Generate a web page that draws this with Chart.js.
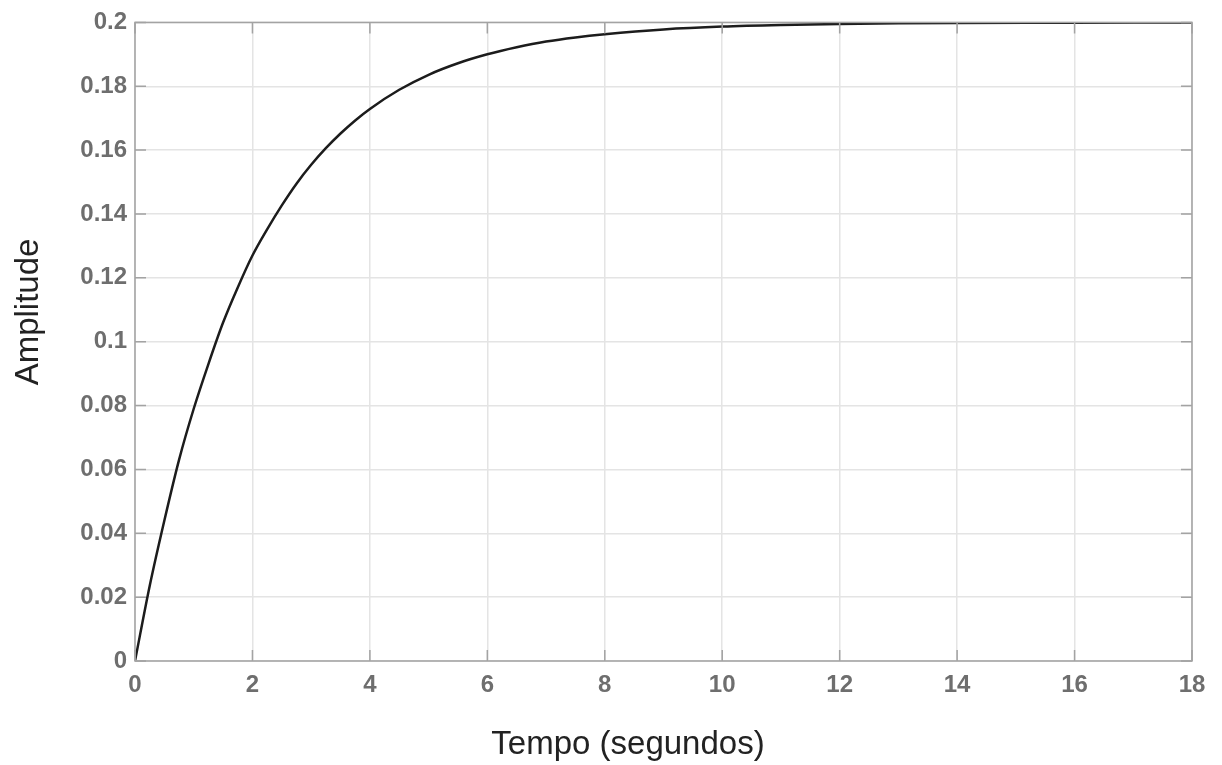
<!DOCTYPE html>
<html>
<head>
<meta charset="utf-8">
<script src="https://cdn.jsdelivr.net/npm/chart.js@4.4.0/dist/chart.umd.min.js"></script>
<style>
  html, body { margin: 0; padding: 0; background: #fff; }
  #wrap { width: 1222px; height: 765px; }
</style>
</head>
<body>
<div id="wrap"><canvas id="myChart" width="1222" height="765"></canvas></div>
<script>
// step response
const tempo = [0, 0.25, 0.5, 0.75, 1, 1.25, 1.5, 1.75, 2, 2.25, 2.5, 2.75, 3, 3.25, 3.5, 3.75, 4, 4.5, 5, 5.5, 6, 6.5, 7, 7.5, 8, 9, 10, 11, 12, 13, 14, 16, 18];
const amplitude = [0, 0.0235, 0.044, 0.063, 0.079, 0.093, 0.106, 0.117, 0.127, 0.1352, 0.1427, 0.1495, 0.1554, 0.1606, 0.1652, 0.1693, 0.1729, 0.1789, 0.1836, 0.1872, 0.190, 0.1922, 0.1940, 0.1953, 0.1963, 0.1978, 0.1987, 0.1992, 0.1995, 0.1997, 0.1998, 0.1999, 0.2];
const xTicks = ['0', '2', '4', '6', '8', '10', '12', '14', '16', '18'];
const yTicks = ['0', '0.02', '0.04', '0.06', '0.08', '0.1', '0.12', '0.14', '0.16', '0.18', '0.2'];
const xTitle = 'Tempo (segundos)';
const yTitle = 'Amplitude';

runChart();
function runChart(){
    const ctx = document.getElementById('myChart').getContext('2d');
    let points = [];
    for (let i = 0; i < tempo.length; i++) {
        points.push({x: tempo[i], y: amplitude[i]});
    }

    const titleFont = '33px "Liberation Sans", Arial, sans-serif';

    // box round the plot, short inward ticks (matlab style) and the two axis titles
    const boxTicks = {
        id: 'boxTicks',
        afterDatasetsDraw(chart) {
            const c = chart.ctx;
            const a = chart.chartArea;
            const xs = chart.scales.x;
            const ys = chart.scales.y;
            const len = 11;
            c.save();
            c.strokeStyle = '#a3a3a3';
            c.lineWidth = 1.5;
            c.strokeRect(a.left, a.top, a.right - a.left, a.bottom - a.top);
            c.beginPath();
            xs.ticks.forEach(t => {
                const px = xs.getPixelForValue(t.value);
                c.moveTo(px, a.bottom); c.lineTo(px, a.bottom - len);
                c.moveTo(px, a.top); c.lineTo(px, a.top + len);
            });
            ys.ticks.forEach(t => {
                const py = ys.getPixelForValue(t.value);
                c.moveTo(a.left, py); c.lineTo(a.left + len, py);
                c.moveTo(a.right, py); c.lineTo(a.right - len, py);
            });
            c.stroke();

            c.fillStyle = '#222';
            c.font = titleFont;
            c.textAlign = 'center';
            c.textBaseline = 'alphabetic';
            c.fillText(xTitle, 628, 754);
            c.translate(38, 312);
            c.rotate(-Math.PI / 2);
            c.fillText(yTitle, 0, 0);
            c.restore();
        }
    };

    const tickFont = {family: 'Liberation Sans, Arial, sans-serif', size: 24, weight: 'bold'};

    new Chart(ctx, {
        type: 'line',
        data: {
            datasets: [{
                label: 'Amplitude',
                data: points,
                borderColor: '#1c1c1c',
                borderWidth: 2.5,
                pointRadius: 0,
                fill: false,
                cubicInterpolationMode: 'monotone'
            }]
        },
        options: {
            responsive: false,
            animation: false,
            layout: {padding: {top: 20, right: 30, left: 0, bottom: 0}},
            plugins: {legend: {display: false}, tooltip: {enabled: false}},
            scales: {
                x: {
                    type: 'linear',
                    min: 0, max: 18,
                    afterFit: s => { s.height = 104; },
                    grid: {color: '#e4e4e4', lineWidth: 1.5, drawTicks: false},
                    border: {display: false},
                    ticks: {
                        stepSize: 2, padding: 10, color: '#6e6e6e', font: tickFont,
                        maxRotation: 0,
                        callback: (v, i) => xTicks[i]
                    }
                },
                y: {
                    min: 0, max: 0.2,
                    afterFit: s => { s.width = 135; },
                    grid: {color: '#e4e4e4', lineWidth: 1.5, drawTicks: false},
                    border: {display: false},
                    ticks: {
                        stepSize: 0.02, padding: 8, color: '#6e6e6e', font: tickFont,
                        callback: (v, i) => yTicks[i]
                    }
                }
            }
        },
        plugins: [boxTicks]
    });
}
</script>
</body>
</html>
